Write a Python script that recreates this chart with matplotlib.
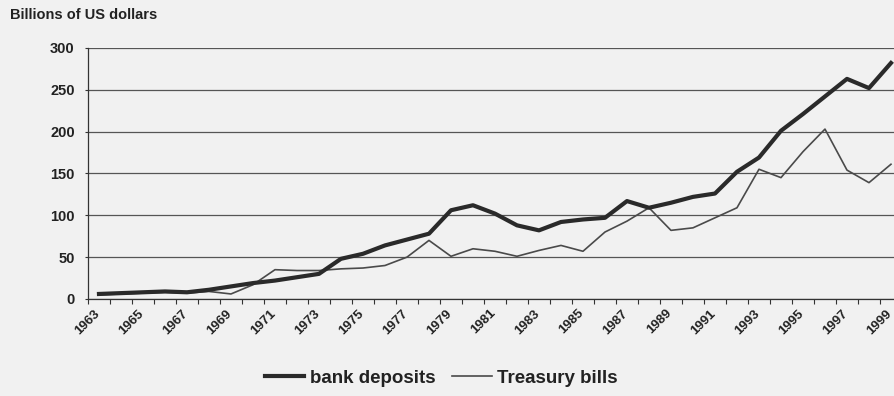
import matplotlib
matplotlib.use("Agg")
import matplotlib.pyplot as plt
from matplotlib.ticker import FixedLocator, NullFormatter

# Данные: годовые объёмы, млрд долларов США
years = list(range(1963, 2000))
bank_deposits = [6, 7, 8, 9, 8, 11, 15, 19, 22, 26, 30, 48, 54, 64, 71, 78,
                 106, 112, 102, 88, 82, 92, 95, 97, 117, 109, 115, 122, 126,
                 152, 169, 201, 221, 242, 263, 252, 282]
treasury_bills = [5, 6, 7, 8, 7, 9, 6, 17, 35, 34, 34, 36, 37, 40, 50, 70,
                  51, 60, 57, 51, 58, 64, 57, 80, 93, 109, 82, 85, 97,
                  109, 155, 145, 176, 203, 154, 139, 161]
y_ticks = [0, 50, 100, 150, 200, 250, 300]

FONT = "Liberation Sans"
BG = "#f1f1f1"

fig = plt.figure(figsize=(8.95, 3.96), dpi=100, facecolor=BG)
# ось намеренно выходит за правый край, как в скане
ax = fig.add_axes([0.0983, 0.245, 0.9095, 0.634], facecolor=BG)

pos = list(range(len(years)))
ax.plot(pos, bank_deposits, color="#2a2a2a", linewidth=3.0,
        solid_joinstyle="round", label="bank deposits", zorder=3)
ax.plot(pos, treasury_bills, color="#4a4a4a", linewidth=1.2,
        label="Treasury bills", zorder=2)

ax.set_xlim(-0.5, len(years) - 0.5)
ax.set_ylim(0, 300)

# Ось Y
ax.set_yticks(y_ticks)
ax.set_yticklabels([str(v) for v in y_ticks], fontfamily=FONT,
                   fontweight="bold", fontsize=10.5, color="#222")
ax.yaxis.grid(True, color="#555", linewidth=0.9)
ax.set_axisbelow(True)
ax.tick_params(axis="y", length=2.5, width=0.8, color="#333", pad=7)

# Ось X: подписи через год (чуть левее точки), засечки между категориями
label_pos = [p - 0.25 for p in pos[::2]]
ax.xaxis.set_major_locator(FixedLocator(label_pos))
ax.set_xticklabels([str(y) for y in years[::2]], fontfamily=FONT,
                   fontweight="bold", fontsize=9.5, color="#222",
                   rotation=45, ha="right", va="top", rotation_mode="anchor")
ax.xaxis.set_minor_locator(FixedLocator([p - 0.5 for p in pos] + [pos[-1] + 0.5]))
ax.xaxis.set_minor_formatter(NullFormatter())
ax.tick_params(axis="x", which="major", length=0, pad=6)
ax.tick_params(axis="x", which="minor", length=3.5, width=0.8, color="#333")

for side in ("top", "right"):
    ax.spines[side].set_visible(False)
for side in ("left", "bottom"):
    ax.spines[side].set_color("#333")
    ax.spines[side].set_linewidth(0.9)

fig.text(0.011, 0.962, "Billions of US dollars", fontfamily=FONT,
         fontweight="bold", fontsize=10.5, color="#222", va="center", ha="left")

fig.legend(loc="center", bbox_to_anchor=(0.493, 0.045), ncol=2, frameon=False,
           prop={"family": FONT, "weight": "bold", "size": 13.5},
           handlelength=2.1, columnspacing=0.9, handletextpad=0.3,
           labelcolor="#222")

fig.savefig("out.png", dpi=100, facecolor=BG)
